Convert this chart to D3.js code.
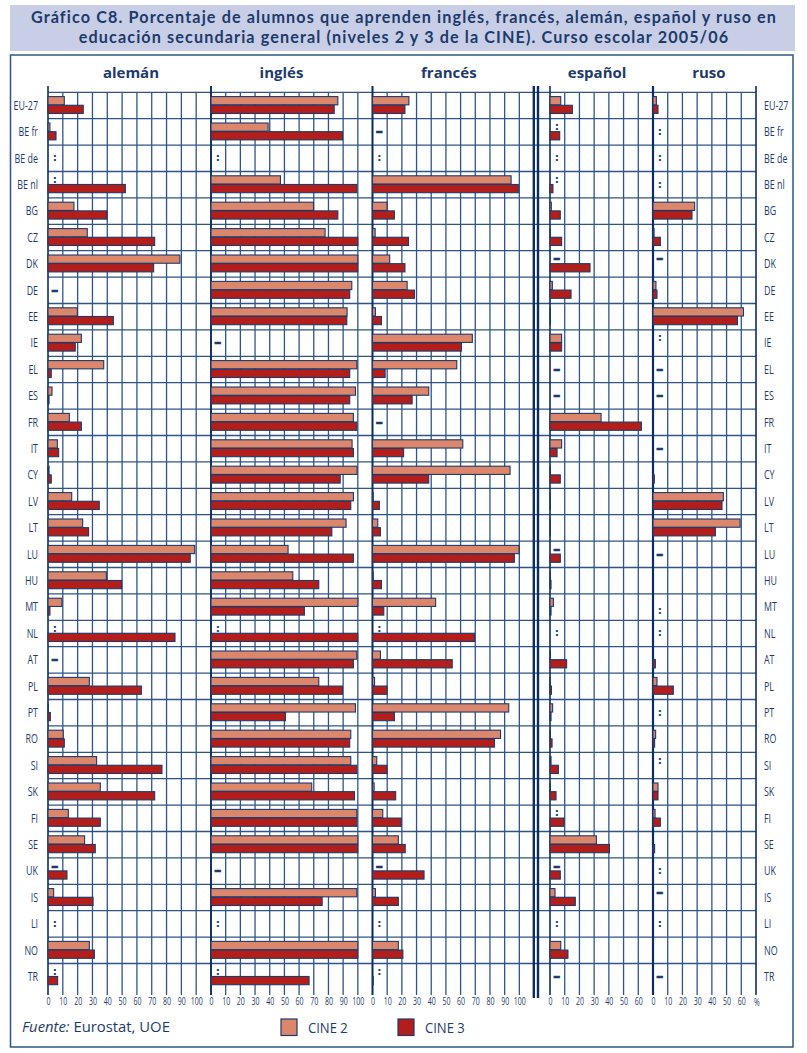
<!DOCTYPE html>
<html><head><meta charset="utf-8">
<script src="https://cdn.jsdelivr.net/npm/d3@7/dist/d3.min.js"></script>
<style>
body{margin:0;background:#fff}
text{font-family:"Open Sans",sans-serif}
</style>
</head><body><svg id="c" width="807" height="1053"></svg>
<script>
// ---------------- DATA ----------------
const countries = ["EU-27","BE fr","BE de","BE nl","BG","CZ","DK","DE","EE","IE","EL","ES","FR","IT","CY","LV","LT","LU","HU","MT","NL","AT","PL","PT","RO","SI","SK","FI","SE","UK","IS","LI","NO","TR"];
const languages = ["alemán","inglés","francés","español","ruso"];
const levels = ["CINE 2","CINE 3"];
// ":" = no disponible, "-" = guion, null = sin marca
const aleman2  = [11,1.3,":",":",17.5,26.5,89,"-",19.8,22.5,37.6,2.7,14.4,6.3,0.7,16,23.4,99,39.4,9.4,":","-",27.9,0.3,10.3,32.8,35.3,13.7,24.7,"-",3.8,":",27.9,":"];
const aleman3  = [23.8,5.4,":",52.2,39.8,72,71.3,"-",44.1,18.4,2.2,0.7,22.5,7.2,2.2,34.6,27.4,96,49.7,1.3,85.7,"-",63,1.6,11,76.9,72,35.3,31.9,12.8,30.4,":",31.3,6.5];
const ingles2  = [86.4,38.9,":",47.3,69.8,77.7,100,95.9,92.7,"-",99.3,98.4,97,96.1,99.5,97,92,52.5,55.7,100,":",99.3,73.4,98.4,95.2,95.2,68.6,99.3,100,"-",99.3,":",100,":"];
const ingles3  = [83.9,89.5,":",99.3,86.4,100,100,94.5,92.5,"-",94.5,94.5,99.3,97,88,95.2,82.3,97,73.4,63.6,100,97,89.5,50.7,94.5,99.3,97.7,99.3,100,"-",75.7,":",100,66.8];
const frances2 = [24.8,"-",":",94.4,9.9,1.8,11.7,23.6,2,68,57.4,38.3,"-",61.5,93.7,0.5,3.6,99.8,0.5,43,":",5.4,1.4,92.8,87.2,2.9,1.1,7,17.6,"-",2,":",17.6,":"];
const frances3 = [22.1,"-",":",99.3,14.9,24.5,22.1,28.6,6.1,60.6,8.6,27,"-",21.2,38.3,4.7,5.4,96.6,6.1,7.7,69.4,54.3,9.9,14.9,83.1,9.9,15.8,19.6,22.3,35.1,17.6,":",20.7,0.5];
const espanol2 = [7.3,":",":",":",0.9,0.3,"-",1.6,0.3,7.9,"-","-",34.7,7.9,0.3,0.3,0.3,"-",0.3,2.3,":",0.3,0.3,1.8,0.3,0.7,0.3,":",31.5,"-",3.4,":",7.3,"-"];
const espanol3 = [15.2,6.6,":",2.0,7.0,7.9,27.2,14.3,0.3,7.9,"-","-",62.1,4.8,7.0,0.3,0.3,7.0,0.7,0.7,":",11.3,1.0,0.7,1.4,5.7,4.1,9.5,40.4,7.0,17.2,":",12.2,"-"];
const ruso2    = [2.3,":",":",":",28.3,0.7,"-",2.0,61.5,":","-","-",null,"-",null,47.8,59.2,"-",null,null,":",null,2.7,":",1.8,":",3.4,1.4,null,":","-",":",null,"-"];
const ruso3    = [3.4,":",":",":",26.5,5.0,null,2.7,57.4,null,"-","-",null,"-",0.9,46.9,42.4,"-",null,":",":",1.6,13.8,":",1.1,null,3.4,5.0,1.1,":",null,":",null,"-"];
const ticksLong  = [0,10,20,30,40,50,60,70,80,90,100];
const ticksShort = [0,10,20,30,40,50,60];
const titleLines = ["Gráfico C8. Porcentaje de alumnos que aprenden inglés, francés, alemán, español y ruso en",
                    "educación secundaria general (niveles 2 y 3 de la CINE). Curso escolar 2005/06"];
const sourceLabel = "Fuente:";
const sourceText = " Eurostat, UOE";

const series = {
  "alemán":[aleman2,aleman3], "inglés":[ingles2,ingles3], "francés":[frances2,frances3],
  "español":[espanol2,espanol3], "ruso":[ruso2,ruso3]
};

// ---------------- LAYOUT ----------------
const NAVY = "#1d3a6c", GRID = "#2f5587", DARK = "#0c2d62";
const COLORS = {"CINE 2":"#dc876c","CINE 3":"#b31e1a"};
const panels = [
  {lang:"alemán",  max:110, r:[48,211],    ticks:ticksLong,  head:56},
  {lang:"inglés",  max:110, r:[211,372.5], ticks:ticksLong,  head:48},
  {lang:"francés", max:110, r:[372.5,534], ticks:ticksLong,  head:52},
  {lang:"español", max:70,  r:[550,653],   ticks:ticksShort, head:32},
  {lang:"ruso",    max:70,  r:[653,756],   ticks:ticksShort, head:38}
];
panels.forEach(p => p.x = d3.scaleLinear().domain([0,p.max]).range(p.r));
const gridTop = 92.3, rowH = 26.4, gridBottom = 995, headTop = 86;
const y = d3.scaleBand().domain(countries).range([gridTop, gridTop + rowH*countries.length]);
const yl = d3.scaleBand().domain(levels).range([4.3, 21.2]).paddingInner(0.05);
const SX = 0.74; // horizontal condensing of small labels

const svg = d3.select("#c");
svg.append("rect").attr("width",807).attr("height",1053).attr("fill","#fff");

// title box
svg.append("rect").attr("x",10).attr("y",5).attr("width",785).attr("height",46).attr("fill","#c7cee5");
const TF = "Lato,'Open Sans',sans-serif";
const tg = svg.append("g").attr("fill",NAVY).attr("font-weight",700).attr("text-anchor","middle");
const t1 = tg.append("text").attr("x",404).attr("y",23).attr("font-size",15).style("font-family",TF).text(titleLines[0]);
const tfs = Math.min(16.2, 15*746/t1.node().getComputedTextLength());
t1.attr("font-size",tfs);
const ls = Math.max(0,(746 - t1.node().getComputedTextLength())/titleLines[0].length);
t1.attr("letter-spacing",ls);
tg.append("text").attr("x",404).attr("y",43).attr("font-size",tfs).attr("letter-spacing",ls)
  .style("font-family",TF).text(titleLines[1]);

// frame
svg.append("rect").attr("x",10.5).attr("y",55).attr("width",782.5).attr("height",992)
  .attr("fill","none").attr("stroke",GRID).attr("stroke-width",1.5);

// horizontal grid
const xMin = panels[0].r[0], xMax = panels[4].r[1];
svg.append("g").selectAll("line").data(countries).join("line")
  .attr("x1",xMin).attr("x2",xMax)
  .attr("y1",d=>y(d)).attr("y2",d=>y(d))
  .attr("stroke",GRID).attr("stroke-width",1.3);

// vertical grid
panels.forEach(p=>{
  const vals = d3.range(0,p.max+1,10);
  svg.append("g").selectAll("line").data(vals).join("line")
    .attr("x1",d=>p.x(d)).attr("x2",d=>p.x(d))
    .attr("y1",d=>(d===0||d===p.max)?headTop:gridTop).attr("y2",gridBottom)
    .attr("stroke",d=>(d===0||d===p.max)?DARK:GRID)
    .attr("stroke-width",d=>(d===0||d===p.max)?1.6:1.3);
});
// heavier ruso start + double separator
svg.append("line").attr("x1",653).attr("x2",653).attr("y1",headTop).attr("y2",gridBottom).attr("stroke",DARK).attr("stroke-width",2.2);
[533.8,538].forEach(xx=>svg.append("line").attr("x1",xx).attr("x2",xx).attr("y1",headTop).attr("y2",gridBottom+3)
  .attr("stroke",DARK).attr("stroke-width",2.4));

// headers
svg.append("g").selectAll("text").data(panels).join("text")
  .attr("x",p=>p.x(p.head)).attr("y",78).attr("text-anchor","middle")
  .attr("font-weight",700).attr("font-size",15)
  .attr("fill",NAVY).text(p=>p.lang);

// bars and markers
const isMark = v => v===":" || v==="-";
panels.forEach(p=>{
  const [s2,s3] = series[p.lang];
  const g = svg.append("g");
  countries.forEach((c,i)=>{
    const vals = [s2[i], s3[i]];
    const marks = [];
    if (isMark(vals[0]) && vals[0]===vals[1]) {
      marks.push({t:vals[0], cy:y(c)+rowH/2});
    } else {
      levels.forEach((lv,k)=>{
        const v = vals[k];
        if (isMark(v)) marks.push({t:v, cy:y(c)+yl(lv)+yl.bandwidth()/2});
        else if (typeof v === "number" && v>0) {
          g.append("rect").attr("x",p.x(0)).attr("y",y(c)+yl(lv))
            .attr("width",p.x(v)-p.x(0)).attr("height",yl.bandwidth())
            .attr("fill",COLORS[lv]).attr("stroke",NAVY).attr("stroke-width",1.1);
        }
      });
    }
    marks.forEach(m=>{
      if (m.t===":") {
        g.append("text").attr("x",p.x(0)+6.8).attr("y",m.cy+2.8).attr("text-anchor","middle")
          .style("font-family","'DejaVu Sans',sans-serif").attr("font-weight",700).attr("font-size",10.5)
          .attr("fill",NAVY).text(":");
      } else {
        g.append("text").attr("x",p.x(0)+6.8).attr("y",m.cy+4.3).attr("text-anchor","middle")
          .style("font-family","'DejaVu Sans',sans-serif").attr("font-weight",700).attr("font-size",15)
          .attr("fill",NAVY).attr("stroke",NAVY).attr("stroke-width",0.6).text("–");
      }
    });
  });
});

// row labels (condensed)
const lab = svg.append("g").attr("fill",NAVY).attr("font-size",12);
lab.selectAll(".l").data(countries).join("text").attr("class","l")
  .attr("transform",d=>`translate(38,${y(d)+rowH/2+4.2}) scale(${SX},1)`)
  .attr("text-anchor","end").text(d=>d);
lab.selectAll(".r").data(countries).join("text").attr("class","r")
  .attr("transform",d=>`translate(764,${y(d)+rowH/2+4.2}) scale(${SX},1)`)
  .attr("text-anchor","start").text(d=>d);

// axes
panels.forEach(p=>{
  const ax = svg.append("g").attr("transform",`translate(0,${gridBottom})`)
    .call(d3.axisBottom(p.x).tickValues(p.ticks).tickSize(0).tickPadding(3));
  ax.select(".domain").remove();
  ax.selectAll("text").style("font-family","'Open Sans',sans-serif").attr("font-size",10)
    .attr("fill",NAVY).attr("transform",`scale(0.7,1)`);
});
svg.append("text").attr("transform",`translate(${panels[4].x(70)+1},1005.5) scale(0.7,1)`)
  .attr("text-anchor","middle").attr("font-size",10).attr("fill",NAVY).text("%");

// source + legend
const src = svg.append("text").attr("x",22).attr("y",1032).attr("fill",NAVY).attr("font-size",13);
src.append("tspan").attr("font-style","italic").text(sourceLabel);
src.append("tspan").text(sourceText);
src.attr("font-size",13*148/src.node().getComputedTextLength());
const leg = svg.append("g");
const legX = {"CINE 2":281,"CINE 3":398};
levels.forEach(lv=>{
  leg.append("rect").attr("x",legX[lv]).attr("y",1019).attr("width",16).attr("height",16.5)
    .attr("fill",COLORS[lv]).attr("stroke",NAVY).attr("stroke-width",1.2);
  leg.append("text").attr("transform",`translate(${legX[lv]+27},1032.5) scale(0.9,1)`)
    .attr("font-size",14.5).attr("fill",NAVY).text(lv);
});
</script></body></html>
